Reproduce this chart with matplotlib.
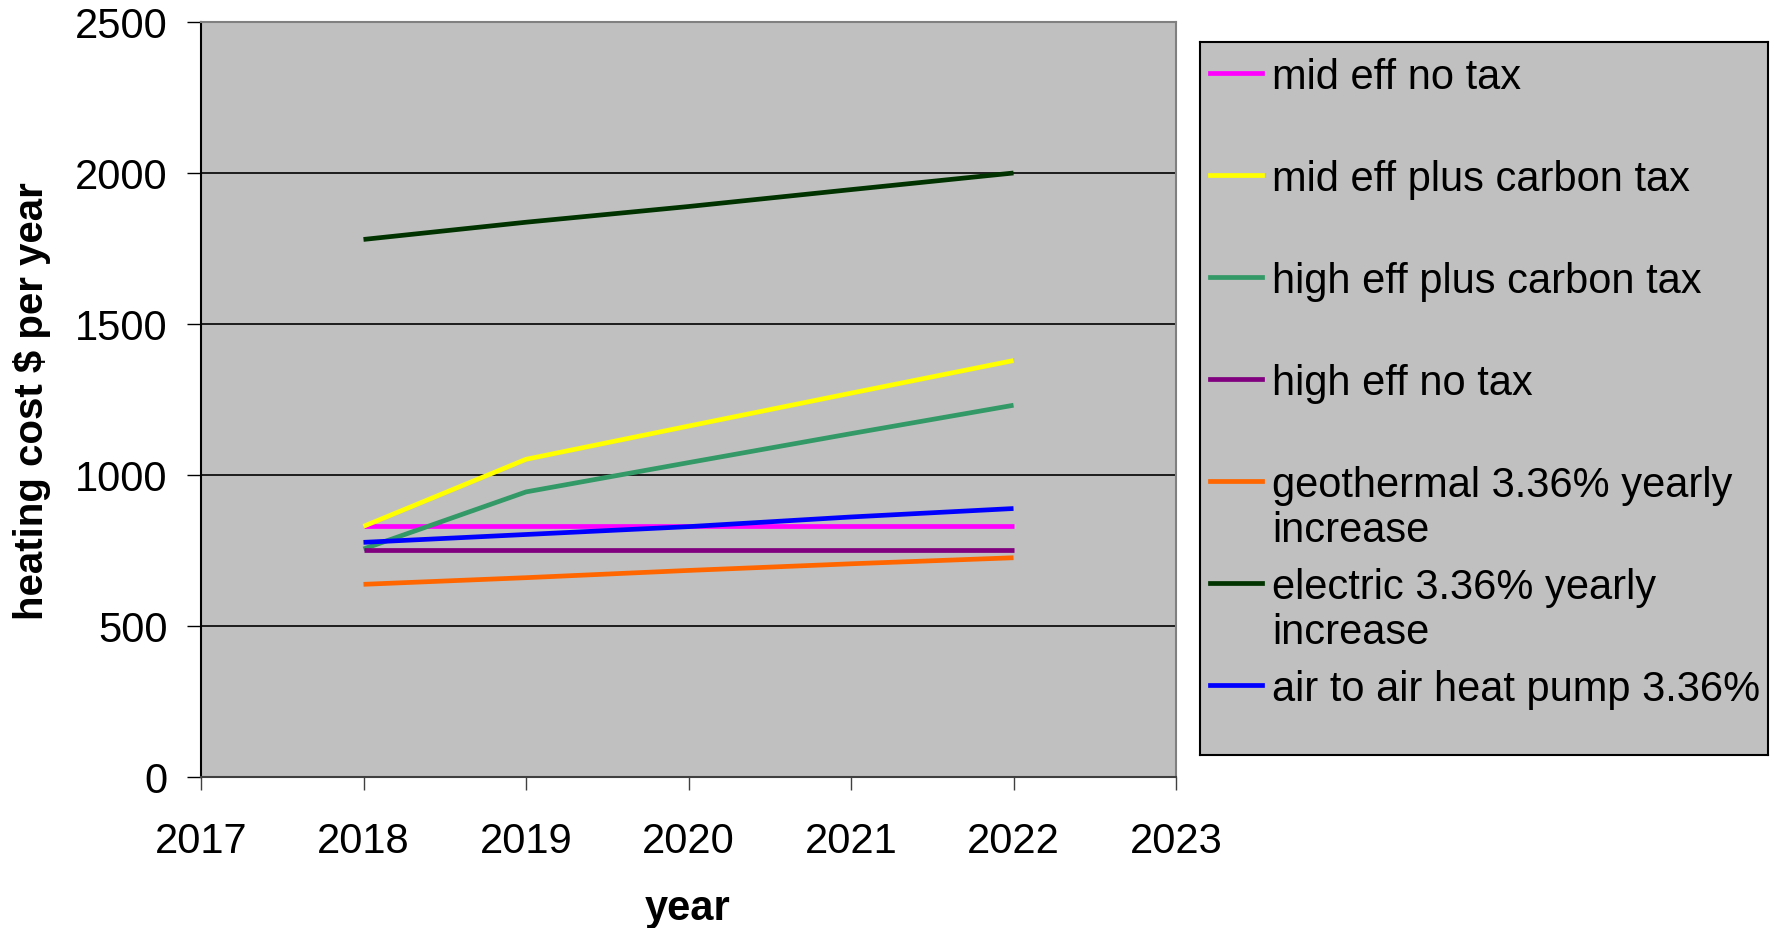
import matplotlib
matplotlib.use("Agg")
import matplotlib.pyplot as plt
from matplotlib.font_manager import findfont, FontProperties
from matplotlib.lines import Line2D

plt.rcParams['font.family'] = ['Liberation Sans', 'DejaVu Sans']

# data
years = [2018, 2019, 2020, 2021, 2022]
mid_no_tax = [830, 830, 830, 830, 830]
mid_carbon = [830, 1052, 1162, 1271, 1379]
high_carbon = [755, 944, 1041, 1137, 1231]
high_no_tax = [752, 752, 752, 752, 752]
geothermal = [638, 660, 684, 706, 726]
electric = [1780, 1837, 1889, 1945, 2000]
heat_pump = [777, 803, 829, 861, 889]

labels = ["mid eff no tax", "mid eff plus carbon tax", "high eff plus carbon tax",
          "high eff no tax", "geothermal 3.36% yearly\nincrease",
          "electric 3.36% yearly\nincrease", "air to air heat pump 3.36%"]
series = [mid_no_tax, mid_carbon, high_carbon, high_no_tax, geothermal,
          electric, heat_pump]
colors = ["#FF00FF", "#FFFF00", "#339966", "#800080", "#FF6600", "#003300",
          "#0000FF"]

gray = "#C0C0C0"
fs = 30

fig = plt.figure(figsize=(17.75, 9.29), dpi=100)
ax = fig.add_axes([201 / 1775, 1 - 778 / 929, 975 / 1775, 755 / 929])
ax.set_facecolor(gray)

for vals, c, lab in zip(series, colors, labels):
    ax.plot(years, vals, color=c, lw=3.4, label=lab, solid_capstyle='butt')

ax.set_xlim(2017, 2023)
ax.set_ylim(0, 2500)
ax.set_xticks(range(2017, 2024))
ax.set_yticks(range(0, 2501, 500))
ax.grid(axis='y', color='black', lw=1.2)
ax.set_axisbelow(True)
ax.tick_params(axis='x', labelsize=fs, length=9, width=1, color='#404040', pad=23)
ax.tick_params(axis='y', labelsize=fs, length=10, width=1, color='black', pad=14)
for s in ['top', 'right']:
    ax.spines[s].set_color('#808080')
    ax.spines[s].set_linewidth(1.5)
ax.spines['left'].set_color('black')
ax.spines['left'].set_linewidth(1.5)
ax.spines['bottom'].set_color('#404040')
ax.spines['bottom'].set_linewidth(1.5)

narrow = 'Liberation Sans Narrow'
try:
    findfont(FontProperties(family=narrow), fallback_to_default=False)
    yfam = [narrow, 'Liberation Sans']
except Exception:
    yfam = ['Liberation Sans']
fig.text(32 / 1775, 1 - 401 / 929, "heating cost $ per year", rotation=90,
         ha='center', va='center', fontsize=29, fontweight='bold', family=yfam)
fig.text(688 / 1775, 1 - 909 / 929, "year", ha='center', va='center',
         fontsize=fs, fontweight='bold')

# legend box, Excel style: one fixed slot per entry
lg = fig.add_axes([1200 / 1775, 1 - 756 / 929, 568 / 1775, 713 / 929])
lg.set_facecolor(gray)
lg.set_xlim(0, 568)
lg.set_ylim(713, 0)
lg.set_xticks([])
lg.set_yticks([])
for s in lg.spines.values():
    s.set_color('black')
    s.set_linewidth(1.5)
for i, (c, lab) in enumerate(zip(colors, labels)):
    y = 31 + 102 * i
    lg.add_line(Line2D([10, 62], [y, y], color=c, lw=3.4))
    lines = lab.split("\n")
    for j, t in enumerate(lines):
        lg.text(72, y + 4 + 45 * j, t, fontsize=fs, va='center', ha='left')

fig.savefig("out.png", dpi=100)
